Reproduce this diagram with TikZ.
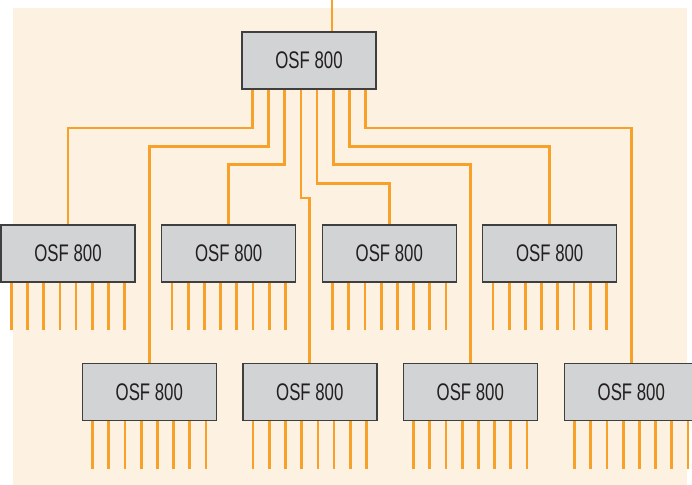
\documentclass[tikz,border=0pt]{standalone}
\usepackage{fontspec}
\setmainfont[FakeStretch=0.7]{Liberation Sans}
\usetikzlibrary{calc}
\definecolor{cream}{HTML}{FDF2E2}
\definecolor{fibre}{HTML}{F7A12B}
\definecolor{boxgray}{HTML}{D1D3D4}
\definecolor{boxline}{HTML}{3F3F3F}
\definecolor{ink}{HTML}{231F20}

\begin{document}
\begin{tikzpicture}[
    x=0.75pt,y=-0.75pt,
    splitter/.style={draw=boxline,fill=boxgray,line width=1.1pt,
        minimum width=100.5pt,minimum height=42.75pt,inner sep=0pt,
        text=ink,font=\fontsize{18}{21}\selectfont},
    wire/.style={draw=fibre,line width=2pt},
  ]

  \def\pitch{16.2}     % lead spacing
  \def\lead{47.5}      % lead length

  % ============================================================= FRAME
  \useasboundingbox (0,0) rectangle (692,485);
  \fill[cream] (13,8) rectangle (687,485);

  % ============================================================= SPLITTERS
  \node[splitter] (top) at (309,60.5) {OSF 800};
  \foreach \i/\x in {1/68,2/228.7,3/389.3,4/549.7}
    \node[splitter] (a\i) at (\x,253.3) {OSF 800};
  \foreach \i/\x in {1/149.3,2/309.8,3/470.3,4/631.3}
    \node[splitter] (b\i) at (\x,392.2) {OSF 800};

  % feed into the first stage
  \coordinate (feed) at (332,0);
  \draw[wire] (feed) -- (feed |- top.north);

  % ============================================================= FAN-OUT
  % taps on the bottom edge of the first stage
  \foreach \k in {1,...,8}
    \coordinate (t\k) at ($(top.south)+({(\k-4.5)*\pitch},0)$);

  % tap / target / drop to the turn
  \foreach \k/\dst/\dy in {1/a1/38.3, 2/b1/56.7, 3/a2/75, 4/b2/108.3,
                           5/a3/93.7, 6/b3/75, 7/a4/56.7, 8/b4/38.3}
    \draw[wire] (t\k) -- ++(0,\dy) -| (\dst.north);

  % ============================================================= OUTPUTS
  \foreach \n in {a1,a2,a3,a4,b1,b2,b3,b4}
    \foreach \k in {1,...,8}
      \draw[wire] ($(\n.south)+({(\k-4.5)*\pitch},0)$) -- ++(0,\lead);

\end{tikzpicture}
\end{document}
